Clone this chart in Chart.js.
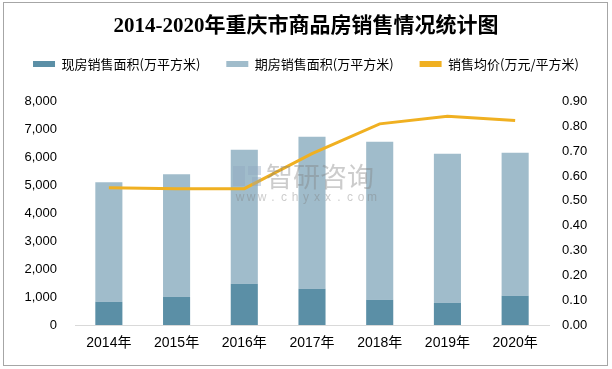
<!DOCTYPE html>
<html>
<head>
<meta charset="utf-8">
<script src="https://cdn.jsdelivr.net/npm/chart.js@4"></script>
<style>
  html, body { margin: 0; padding: 0; background: #fff; }
  #wrap { position: relative; width: 612px; height: 369px; }
  #frame {
    position: absolute; left: 3px; top: 2px; width: 603px; height: 362px;
    border: 1px solid #a6a6a6; pointer-events: none;
  }
</style>
</head>
<body>
<div id="wrap">
  <canvas id="chart" width="612" height="369"></canvas>
  <div id="frame"></div>
</div>
<script>
  'use strict';

  // data
  const years = ['2014年', '2015年', '2016年', '2017年', '2018年', '2019年', '2020年'];
  const spotArea = [829, 1009, 1477, 1297, 901, 793, 1045];        // 现房销售面积
  const futureArea = [4277, 4385, 4793, 5442, 5658, 5333, 5117];   // 期房销售面积
  const avgPrice = [0.553, 0.549, 0.549, 0.69, 0.81, 0.841, 0.823]; // 销售均价

  const titleText = '2014-2020年重庆市商品房销售情况统计图';
  const seriesNames = ['现房销售面积(万平方米)', '期房销售面积(万平方米)', '销售均价(万元/平方米)'];

  const DARK = '#5b8fa6';
  const LIGHT = '#a0bccb';
  const GOLD = '#f0b021';
  const CJK = '"Noto Sans CJK SC", sans-serif';
  const NUM = '"Liberation Sans", "Noto Sans CJK SC", sans-serif';

  // faint site watermark over the plot
  const watermark = {
    id: 'watermark',
    afterDatasetsDraw(chart) {
      const c = chart.ctx;
      c.save();
      c.globalAlpha = 0.4;
      c.fillStyle = '#8fa6bd';
      c.fillRect(233, 166, 12, 20);
      c.fillRect(248, 166, 13, 9);
      c.fillRect(252, 177, 9, 9);
      c.fillStyle = '#7f7f7f';
      c.font = '27px ' + CJK;
      c.textBaseline = 'middle';
      c.textAlign = 'left';
      c.fillText('智研咨询', 266, 177);
      c.font = '12px ' + NUM;
      c.textAlign = 'center';
      const site = 'www.chyxx.com';
      for (let i = 0; i < site.length; i++) {
        c.fillText(site[i], 240 + i * 11, 198);
      }
      c.restore();
    }
  };

  new Chart(document.getElementById('chart'), {
    type: 'bar',
    data: {
      labels: years,
      datasets: [
        {
          label: seriesNames[0],
          data: spotArea,
          backgroundColor: DARK,
          borderWidth: 0,
          yAxisID: 'y',
          order: 1
        },
        {
          label: seriesNames[1],
          data: futureArea,
          backgroundColor: LIGHT,
          borderWidth: 0,
          yAxisID: 'y',
          order: 1
        },
        {
          type: 'line',
          label: seriesNames[2],
          data: avgPrice,
          borderColor: GOLD,
          backgroundColor: GOLD,
          borderWidth: 3,
          pointRadius: 0,
          tension: 0,
          fill: false,
          yAxisID: 'y1',
          order: 0
        }
      ]
    },
    options: {
      responsive: false,
      devicePixelRatio: 1,
      animation: false,
      datasets: {
        bar: { categoryPercentage: 1, barPercentage: 0.4 }
      },
      layout: { padding: 0 },
      scales: {
        x: {
          stacked: true,
          grid: { display: false, drawTicks: false },
          border: { display: true, color: '#d9d9d9', width: 1 },
          ticks: { color: '#000', font: { family: NUM, size: 14 }, padding: 10 },
          afterFit: s => { s.height = 44; }
        },
        y: {
          stacked: true,
          position: 'left',
          min: 0,
          max: 8000,
          grid: { display: false, drawTicks: false },
          border: { display: false },
          ticks: {
            stepSize: 1000,
            color: '#000',
            font: { family: NUM, size: 13 },
            padding: 18,
            callback: v => v.toLocaleString('en-US')
          },
          afterFit: s => { s.width = 75; }
        },
        y1: {
          position: 'right',
          min: 0,
          max: 0.9,
          grid: { display: false, drawTicks: false },
          border: { display: false },
          ticks: {
            stepSize: 0.1,
            color: '#000',
            font: { family: NUM, size: 13 },
            padding: 13,
            callback: v => Number(v).toFixed(2)
          },
          afterFit: s => { s.width = 63; }
        }
      },
      plugins: {
        title: {
          display: true,
          text: titleText,
          color: '#000',
          font: { family: '"Liberation Serif", "Noto Sans CJK SC", serif', size: 21, weight: 'bold', lineHeight: 0.5 },
          padding: { top: 21, bottom: 0 }
        },
        // empty subtitle sits under the legend as a gap before the plot
        subtitle: {
          display: true,
          text: '',
          weight: 500,
          font: { size: 10, lineHeight: '21px' },
          padding: 0
        },
        legend: {
          display: true,
          position: 'top',
          labels: {
            color: '#000',
            font: { family: CJK, size: 13 },
            boxWidth: 22,
            boxHeight: 6,
            padding: 26,
            sort: (a, b) => a.datasetIndex - b.datasetIndex,
            generateLabels: chart => {
              const items = Chart.defaults.plugins.legend.labels.generateLabels(chart);
              items.forEach(it => { it.lineWidth = 0; });
              return items;
            }
          }
        },
        tooltip: { enabled: false }
      }
    },
    plugins: [watermark]
  });
</script>
</body>
</html>
